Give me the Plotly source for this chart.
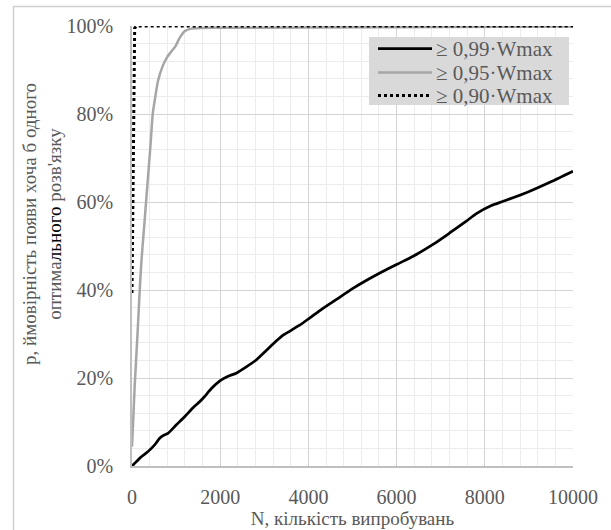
import plotly.graph_objects as go

# Data (N, probability in %)
n_99 = [0, 100, 212, 330, 439, 530, 627, 720, 815, 1000, 1193, 1400, 1533, 1646, 1800, 2000,
        2180, 2363, 2600, 2816, 3050, 3270, 3420, 3572, 3800, 4025, 4300, 4629, 5000, 5300, 5610,
        6000, 6364, 6817, 7195, 7573, 7800, 8150, 8403, 9007, 9500, 10000]
p_99 = [0, 1.0, 2.1, 3.0, 4.0, 5.0, 6.3, 7.0, 7.4, 9.3, 11.2, 13.4, 14.6, 15.8, 17.6, 19.4,
        20.4, 21.1, 22.6, 24.1, 26.3, 28.4, 29.7, 30.6, 32.0, 33.6, 35.6, 37.8, 40.3, 42.1, 43.8,
        45.8, 47.6, 50.3, 52.9, 55.6, 57.3, 59.2, 60.1, 62.4, 64.6, 67.0]

n_95 = [0, 30, 60, 120, 170, 210, 280, 350, 420, 470, 530, 589, 700, 800, 900, 980, 1080,
        1193, 1344, 2000, 10000]
p_95 = [4.4, 11, 18, 29, 39, 46, 55, 64, 73, 80, 84, 87.5, 91, 93, 94.3, 95.3, 97.3,
        98.8, 99.4, 99.6, 99.9]

n_90 = [0, 60, 100, 10000]
p_90 = [39.3, 99.5, 100, 100]

series_names = ["≥ 0,99·Wmax", "≥ 0,95·Wmax", "≥ 0,90·Wmax"]
series_colors = ["#000000", "#a6a6a6", "#000000"]
series_dash = ["solid", "solid", "dot"]
x_ticks = [0, 2000, 4000, 6000, 8000, 10000]
y_ticks = [0, 20, 40, 60, 80, 100]

TXT = "#595959"
FONT = "Liberation Serif, Times New Roman, DejaVu Serif, serif"
GRID = "#d4d4d4"
MINOR = "#ececec"

# pixel -> paper helpers (plot area 132..573 x 26..466)
L, R, T, B = 132, 573, 26, 466
def px(x):
    return (x - L) / (R - L)
def py(y):
    return (B - y) / (B - T)

fig = go.Figure()
fig.add_trace(go.Scatter(x=n_99, y=[v / 100 for v in p_99], mode="lines", name=series_names[0],
                         line=dict(color=series_colors[0], width=2.75, shape="spline", smoothing=0.6)))
fig.add_trace(go.Scatter(x=n_95, y=[v / 100 for v in p_95], mode="lines", name=series_names[1],
                         line=dict(color=series_colors[1], width=2.5, shape="spline", smoothing=0.6)))
fig.add_trace(go.Scatter(x=n_90, y=[v / 100 for v in p_90], mode="lines", name=series_names[2],
                         line=dict(color=series_colors[2], width=3, dash=series_dash[2])))

shapes = [
    # outer chart border
    dict(type="rect", xref="paper", yref="paper",
         x0=px(13.5), x1=px(612), y0=py(532), y1=py(6.5),
         line=dict(color="#cfcfcf", width=1.5), layer="above"),
    # legend box
    dict(type="rect", xref="paper", yref="paper",
         x0=px(369), x1=px(569), y0=py(105), y1=py(37),
         fillcolor="#d9d9d9", line=dict(width=0), layer="above"),
]
annotations = []
row_y = [48.5, 72.5, 95.5]
for i, name in enumerate(series_names):
    shapes.append(dict(type="line", xref="paper", yref="paper",
                       x0=px(378), x1=px(432), y0=py(row_y[i]), y1=py(row_y[i]),
                       line=dict(color=series_colors[i], width=2.75 if i == 0 else (2.5 if i == 1 else 3),
                                 dash=series_dash[i]), layer="above"))
    annotations.append(dict(text=name, xref="paper", yref="paper",
                            x=px(434), y=py(row_y[i]), xanchor="left", yanchor="middle",
                            showarrow=False, font=dict(family=FONT, size=21, color=TXT)))

annotations.append(dict(
    text="p, ймовірність появи хоча б одного<br>оптима<span style='color:#000000'>льного</span> розв'язку",
    xref="paper", yref="paper", x=px(42), y=py(224),
    xanchor="center", yanchor="middle", textangle=-90, showarrow=False,
    font=dict(family=FONT, size=19, color=TXT)))

fig.update_layout(
    width=611, height=530,
    margin=dict(l=L, r=611 - R, t=T, b=530 - B, autoexpand=False),
    paper_bgcolor="white", plot_bgcolor="white",
    font=dict(family=FONT, size=18, color=TXT),
    showlegend=False,
    xaxis=dict(range=[0, 10000], tickvals=x_ticks, ticktext=[str(v) for v in x_ticks],
               automargin=False,
               showgrid=True, gridcolor=GRID, gridwidth=1,
               minor=dict(dtick=400, showgrid=True, gridcolor=MINOR, gridwidth=1, ticks=""),
               showline=True, linecolor="#bfbfbf", linewidth=1.5,
               ticks="outside", ticklen=12, tickcolor="rgba(0,0,0,0)",
               tickfont=dict(family=FONT, size=20, color=TXT),
               zeroline=False,
               title=dict(text="N, кількість випробувань", font=dict(family=FONT, size=19, color=TXT),
                          standoff=2)),
    yaxis=dict(range=[0, 1], tickvals=[v / 100 for v in y_ticks],
               ticktext=[f"{v}%" for v in y_ticks],
               automargin=False,
               showgrid=True, gridcolor=GRID, gridwidth=1,
               minor=dict(dtick=0.04, showgrid=True, gridcolor=MINOR, gridwidth=1, ticks=""),
               showline=True, linecolor="#bfbfbf", linewidth=1.5,
               ticks="outside", ticklen=13, tickcolor="rgba(0,0,0,0)",
               tickfont=dict(family=FONT, size=20, color=TXT),
               zeroline=False),
    annotations=annotations,
    shapes=shapes,
)

fig.write_html("out.html", config={"displayModeBar": False},
               post_script="document.body.style.margin='0';document.body.style.padding='0';")
